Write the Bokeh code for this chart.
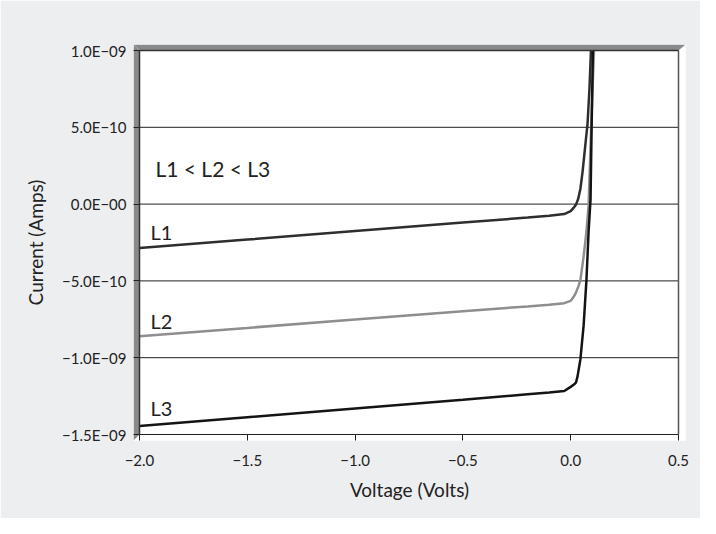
from bokeh.plotting import figure
from bokeh.models import Range1d, FixedTicker, Label
from bokeh.embed import file_html
from bokeh.resources import INLINE

# ---- data ----
V1 = [-2.0, -1.5, -1.0, -0.5, -0.2, -0.1, -0.03, 0.0, 0.013, 0.025, 0.035, 0.045, 0.055, 0.069, 0.078, 0.087, 0.094]
I1 = [-2.86e-10, -2.31e-10, -1.75e-10, -1.20e-10, -8.8e-11, -7.6e-11, -6.5e-11, -4.6e-11, -2.5e-11, -2e-12, 3.5e-11, 1.0e-10, 2.1e-10, 4.0e-10, 5.2e-10, 7.5e-10, 1.0e-09]

V2 = [-2.0, -1.5, -1.0, -0.5, -0.2, -0.1, -0.03, 0.0, 0.013, 0.025, 0.036, 0.045, 0.06, 0.073, 0.083, 0.095, 0.108]
I2 = [-8.60e-10, -8.06e-10, -7.51e-10, -6.97e-10, -6.66e-10, -6.55e-10, -6.45e-10, -6.30e-10, -6.05e-10, -5.75e-10, -5.34e-10, -4.95e-10, -3.40e-10, -1.80e-10, -1.0e-11, 5.0e-10, 1.0e-09]

V3 = [-2.0, -1.5, -1.0, -0.5, -0.2, -0.1, -0.03, 0.0, 0.015, 0.025, 0.032, 0.045, 0.06, 0.073, 0.083, 0.092, 0.097, 0.103]
I3 = [-1.445e-09, -1.388e-09, -1.330e-09, -1.273e-09, -1.238e-09, -1.226e-09, -1.217e-09, -1.190e-09, -1.175e-09, -1.16e-09, -1.12e-09, -1.01e-09, -7.9e-10, -4.95e-10, -1.8e-10, 3.0e-11, 5.0e-10, 1.0e-09]

X_TICKS = [-2.0, -1.5, -1.0, -0.5, 0.0, 0.5]
X_LABELS = ["\u22122.0", "\u22121.5", "\u22121.0", "\u22120.5", "0.0", "0.5"]
Y_TICKS = [1.0e-09, 5.0e-10, 0.0, -5.0e-10, -1.0e-09, -1.5e-09]
Y_LABELS = ["1.0E\u221209", "5.0E\u221210", "0.0E\u221200", "\u22125.0E\u221210", "\u22121.0E\u221209", "\u22121.5E\u221209"]

CURVE_NAMES = ["L1", "L2", "L3"]
ORDER_TEXT = "L1 < L2 < L3"

# ---- layout ----
X_MIN, X_MAX = -2.0, 0.5
Y_MIN, Y_MAX = -1.5e-09, 1.0e-09
PX_PER_X = 215.6
PX_PER_Y = 153.6e9
DEPTH = 6  # px of the 3-D wall
xs0 = X_MIN - DEPTH / PX_PER_X
xs1 = X_MAX + 7 / PX_PER_X
ys0 = Y_MIN - DEPTH / PX_PER_Y
ys1 = Y_MAX + DEPTH / PX_PER_Y

FONT = "Lato"
TXT = "#222222"

p = figure(width=700, height=518, output_backend="svg", toolbar_location=None,
           x_range=Range1d(xs0, xs1), y_range=Range1d(ys0, ys1),
           min_border_left=133, min_border_right=15, min_border_top=44, min_border_bottom=78,
           background_fill_color="white", border_fill_color="#EDEEF0")
p.outline_line_color = None
p.xgrid.visible = False
p.ygrid.visible = False

# grid lines (horizontal) from tick values
p.segment(x0=[X_MIN] * len(Y_TICKS), x1=[X_MAX] * len(Y_TICKS), y0=Y_TICKS, y1=Y_TICKS,
          line_color="#222222", line_width=1)
# right border
p.segment(x0=[X_MAX], x1=[X_MAX], y0=[Y_MIN], y1=[Y_MAX], line_color="#555555", line_width=1.5)

# curves
p.line(V1, I1, line_color="#2e2e2e", line_width=2.5)
p.line(V2, I2, line_color="#8e8e8e", line_width=2.5)
p.line(V3, I3, line_color="#141414", line_width=2.5)

# 3-D walls
p.patch([xs0, X_MIN, X_MIN, xs0], [ys1, Y_MAX, Y_MIN, ys0], fill_color="#8a8a8a", line_color=None)
p.patch([xs0, xs1, X_MAX, X_MIN], [ys1, ys1, Y_MAX, Y_MAX], fill_color="#8a8a8a", line_color=None)
p.segment(x0=[X_MIN], x1=[X_MIN], y0=[Y_MIN], y1=[Y_MAX], line_color="#333333", line_width=1.5)
p.segment(x0=[X_MIN], x1=[X_MAX], y0=[Y_MAX], y1=[Y_MAX], line_color="#333333", line_width=1.5)

# axes
p.xaxis.ticker = FixedTicker(ticks=X_TICKS)
p.xaxis.major_label_overrides = dict(zip(X_TICKS, X_LABELS))
p.yaxis.ticker = FixedTicker(ticks=Y_TICKS)
p.yaxis.major_label_overrides = dict(zip(Y_TICKS, Y_LABELS))
for ax in (p.xaxis, p.yaxis):
    ax.axis_line_color = None
    ax.major_tick_in = 6
    ax.major_tick_out = 0
    ax.minor_tick_line_color = None
    ax.major_tick_line_color = "#222222"
    ax.major_label_text_font = FONT
    ax.major_label_text_font_size = "15px"
    ax.major_label_text_color = TXT
    ax.axis_label_text_font = FONT
    ax.axis_label_text_font_size = "19px"
    ax.axis_label_text_font_style = "normal"
    ax.axis_label_text_color = TXT
p.xaxis.axis_label = "Voltage (Volts)"
p.yaxis.axis_label = "Current (Amps)"
p.xaxis.major_label_standoff = 14
p.xaxis.axis_label_standoff = 9
p.yaxis.major_label_standoff = 7
p.yaxis.axis_label_standoff = 12

# texts
p.add_layout(Label(x=-1.926, y=2.35e-10, text=ORDER_TEXT, text_font=FONT, text_font_size="21px",
                   text_color=TXT, text_baseline="alphabetic"))
for name, yy in zip(CURVE_NAMES, [-1.81e-10, -7.6e-10, -1.327e-09]):
    p.add_layout(Label(x=-1.949, y=yy, text=name, text_font=FONT, text_font_size="20px",
                       text_color=TXT, text_baseline="alphabetic"))

open("out.html", "w").write(file_html(p, INLINE))
